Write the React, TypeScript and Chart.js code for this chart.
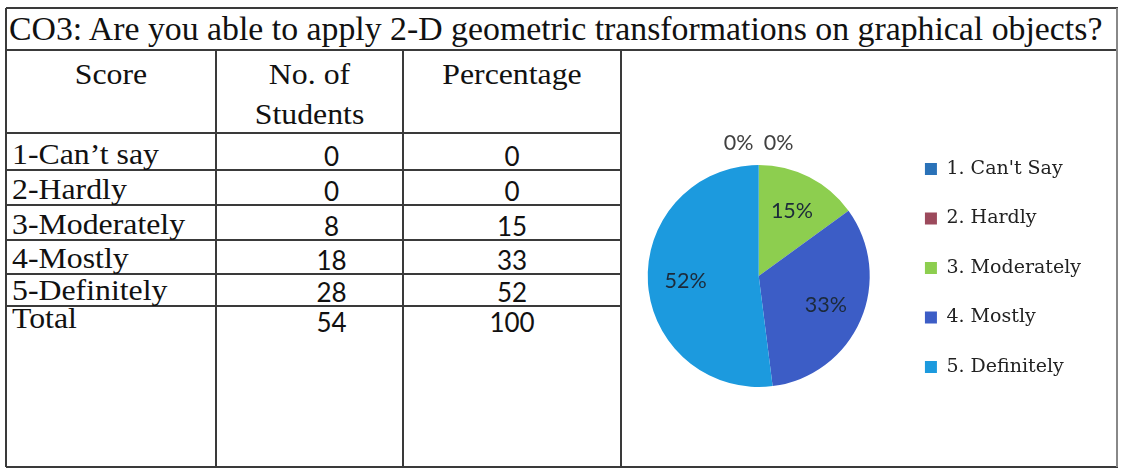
import React, { useEffect, useRef } from "react";
import { Chart, registerables } from "chart.js";
Chart.register(...registerables);

const titleText = "CO3: Are you able to apply 2-D geometric transformations on graphical objects?";
const headerScore = "Score";
const headerStudents = ["No. of", "Students"];
const headerPercent = "Percentage";
const scoreLabels = ["1-Can\u2019t say", "2-Hardly", "3-Moderately", "4-Mostly", "5-Definitely"];
const studentCounts = [0, 0, 8, 18, 28];
const percentValues = [0, 0, 15, 33, 52];
const legendLabels = ["1. Can't Say", "2. Hardly", "3. Moderately", "4. Mostly", "5. Definitely"];
const totalLabel = "Total";
const sliceColors = ["#2a72b8", "#9c4a5c", "#8dce4f", "#3c5dc6", "#1c9ade"];

const SERIF = '"Liberation Serif", "Times New Roman", serif';
const SANS = 'Lato, "Open Sans", sans-serif';
const LEG = '"DejaVu Serif", serif';

const COLX = [6, 216, 403, 621, 1117];
const ROWY = [8, 50, 133, 170, 205, 240, 274, 306, 467];
const LINE = "#3a3a3a";

const SERIF_SIZE = 30;
const SERIF_SX = 1.06;
const NUM_SIZE = 26;

function Txt(props: {
  left: number; width?: number; baseline: number; size: number; family: string;
  ratio: number; text: string; align?: "left" | "center"; color?: string; sx?: number;
}) {
  const { left, width, baseline, size, family, ratio, text, align = "left", color = "#111", sx = 1 } = props;
  return (
    <div
      style={{
        position: "absolute", left, width, top: baseline - ratio * size,
        fontFamily: family, fontSize: size, lineHeight: `${size}px`, whiteSpace: "nowrap",
        textAlign: align, color,
        transform: sx !== 1 ? `scaleX(${sx})` : undefined,
        transformOrigin: align === "center" ? "center" : "left",
      }}
    >
      {text}
    </div>
  );
}

const SR = 0.8375; // Liberation Serif baseline ratio at line-height 1
const NR = 0.887;  // Lato baseline ratio at line-height 1

function PieChart() {
  const ref = useRef<HTMLCanvasElement>(null);
  useEffect(() => {
    const labelPlugin = {
      id: "sliceLabels",
      afterDatasetsDraw(chart: any) {
        const ctx = chart.ctx;
        const meta = chart.getDatasetMeta(0);
        const zeros = percentValues.map((v, i) => (v === 0 ? i : -1)).filter((i) => i >= 0);
        ctx.save();
        ctx.font = `21.5px ${SANS}`;
        ctx.textAlign = "center";
        ctx.textBaseline = "middle";
        meta.data.forEach((arc: any, i: number) => {
          const v = percentValues[i];
          const p = arc.getProps(["x", "y", "startAngle", "endAngle", "outerRadius"], true);
          const text = `${v}%`;
          if (v === 0) {
            const k = zeros.indexOf(i);
            ctx.fillStyle = "#404040";
            ctx.fillText(text, p.x + (k - (zeros.length - 1) / 2) * 40, p.y - p.outerRadius - 22);
          } else {
            const mid = (p.startAngle + p.endAngle) / 2;
            const r = p.outerRadius * 0.66;
            ctx.fillStyle = "#1c2a3a";
            ctx.fillText(text, p.x + Math.cos(mid) * r, p.y + Math.sin(mid) * r);
          }
        });
        ctx.restore();
      },
    };
    const shiftLegend = {
      id: "shiftLegend",
      afterLayout(chart: any) {
        const l = chart.legend;
        if (l) { l.top -= 8; l.bottom -= 8; }
      },
    };
    const chart = new Chart(ref.current!, {
      type: "pie",
      data: {
        labels: legendLabels,
        datasets: [{ data: percentValues, backgroundColor: sliceColors, borderWidth: 0 }],
      },
      options: {
        responsive: false,
        animation: false,
        radius: 111,
        layout: { padding: { left: 7, right: 21, top: 32, bottom: 0 } },
        plugins: {
          legend: {
            position: "right",
            labels: {
              font: { family: LEG, size: 19 },
              color: "#222",
              boxWidth: 12,
              boxHeight: 12,
              padding: 30.5,
            },
          },
          tooltip: { enabled: false },
        },
      } as any,
      plugins: [labelPlugin, shiftLegend],
    });
    return () => chart.destroy();
  }, []);
  return (
    <canvas
      ref={ref}
      width={496}
      height={414}
      style={{ position: "absolute", left: 616, top: 53, width: 496, height: 414 }}
    />
  );
}

export default function App() {
  const hLines: { x1: number; x2: number; y: number }[] = [
    { x1: COLX[0], x2: COLX[4], y: ROWY[0] },
    { x1: COLX[0], x2: COLX[4], y: ROWY[1] },
  ];
  for (let r = 2; r <= 7; r++) hLines.push({ x1: COLX[0], x2: COLX[3], y: ROWY[r] });
  hLines.push({ x1: COLX[0], x2: COLX[4], y: ROWY[8] });
  const vLines = [
    { x: COLX[0], y1: ROWY[0], y2: ROWY[8] },
    { x: COLX[1], y1: ROWY[1], y2: ROWY[8] },
    { x: COLX[2], y1: ROWY[1], y2: ROWY[8] },
    { x: COLX[3], y1: ROWY[1], y2: ROWY[8] },
    { x: COLX[4], y1: ROWY[0], y2: ROWY[8] },
  ];
  const c2 = { left: COLX[1] + 22, width: COLX[2] - COLX[1] };
  const c2h = { left: COLX[1], width: COLX[2] - COLX[1] };
  const c3 = { left: COLX[2], width: COLX[3] - COLX[2] };
  const totalStudents = studentCounts.reduce((a, b) => a + b, 0);
  const totalPercent = percentValues.reduce((a, b) => a + b, 0);
  const serif = { size: SERIF_SIZE, family: SERIF, ratio: SR, sx: SERIF_SX };
  const num = { size: NUM_SIZE, family: SANS, ratio: NR };

  return (
    <div
      style={{
        position: "fixed", left: 0, top: 0, width: 1124, height: 470,
        background: "#fff", overflow: "hidden",
      }}
    >
      {hLines.map((l, i) => (
        <div key={"h" + i} style={{ position: "absolute", left: l.x1, top: l.y - 1, width: l.x2 - l.x1 + 1, height: 2, background: LINE }} />
      ))}
      {vLines.map((l, i) => (
        <div key={"v" + i} style={{ position: "absolute", left: l.x - 1, top: l.y1, width: i === 4 ? 1.5 : 2, height: l.y2 - l.y1, background: i === 4 ? "#888" : LINE }} />
      ))}

      <Txt left={9} baseline={40} size={33.8} family={SERIF} ratio={SR} text={titleText} />

      <Txt left={COLX[0]} width={COLX[1] - COLX[0]} baseline={84} {...serif} text={headerScore} align="center" />
      <Txt {...c2h} baseline={84} {...serif} text={headerStudents[0]} align="center" />
      <Txt {...c2h} baseline={124} {...serif} text={headerStudents[1]} align="center" />
      <Txt {...c3} baseline={84} {...serif} text={headerPercent} align="center" />

      {scoreLabels.map((s, i) => {
        const bottom = ROWY[3 + i];
        return (
          <React.Fragment key={s}>
            <Txt left={12} baseline={bottom - 6} {...serif} text={s} />
            <Txt {...c2} baseline={bottom - 4} {...num} text={String(studentCounts[i])} align="center" />
            <Txt {...c3} baseline={bottom - 4} {...num} text={String(percentValues[i])} align="center" />
          </React.Fragment>
        );
      })}
      <Txt left={12} baseline={ROWY[7] + 22} {...serif} text={totalLabel} />
      <Txt {...c2} baseline={ROWY[7] + 26} {...num} text={String(totalStudents)} align="center" />
      <Txt {...c3} baseline={ROWY[7] + 26} {...num} text={String(totalPercent)} align="center" />

      <PieChart />
    </div>
  );
}
